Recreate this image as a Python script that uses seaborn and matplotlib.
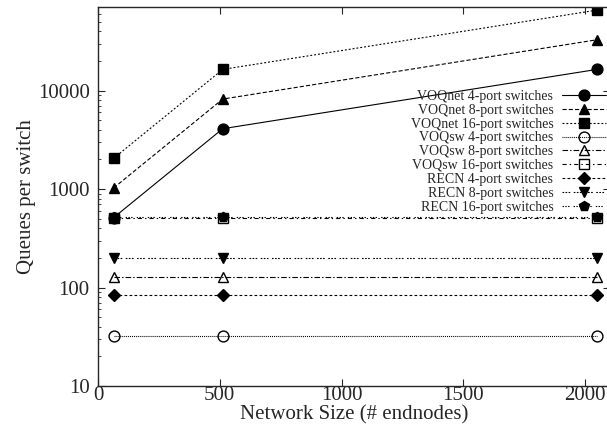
import matplotlib
matplotlib.use("Agg")
import matplotlib.pyplot as plt
import seaborn as sns
import pandas as pd

# ---- data ----
network_sizes = [64, 512, 2048]
voqnet_4 = [512, 4096, 16384]
voqnet_8 = [1024, 8192, 32768]
voqnet_16 = [2048, 16384, 65536]
voqsw_4 = [32, 32, 32]
voqsw_8 = [128, 128, 128]
voqsw_16 = [512, 512, 512]
recn_4 = [84, 84, 84]
recn_8 = [200, 200, 200]
recn_16 = [525, 525, 525]

series_labels = [
    "VOQnet 4-port switches", "VOQnet 8-port switches", "VOQnet 16-port switches",
    "VOQsw 4-port switches", "VOQsw 8-port switches", "VOQsw 16-port switches",
    "RECN 4-port switches", "RECN 8-port switches", "RECN 16-port switches",
]
series_values = [voqnet_4, voqnet_8, voqnet_16, voqsw_4, voqsw_8, voqsw_16,
                 recn_4, recn_8, recn_16]
x_ticks = [0, 500, 1000, 1500, 2000]
y_ticks = [10, 100, 1000, 10000]
y_tick_labels = ["10", "100", "1000", "10000"]

# ---- styles ----
styles = [
    dict(ls="-", marker="o", mfc="black"),
    dict(ls=(0, (3.0, 1.5)), marker="^", mfc="black"),
    dict(ls=(0, (1.4, 1.4)), marker="s", mfc="black"),
    dict(ls=(0, (0.7, 0.7)), marker="o", mfc="none"),
    dict(ls=(0, (4.0, 1.5, 1.0, 1.5)), marker="^", mfc="none"),
    dict(ls=(0, (3.0, 2.2, 1.0, 2.2)), marker="s", mfc="none"),
    dict(ls=(0, (2.0, 1.6)), marker="D", mfc="black"),
    dict(ls=(0, (1.2, 1.0, 1.2, 1.0, 1.2, 2.5)), marker="v", mfc="black"),
    dict(ls=(0, (1.0, 1.0, 1.0, 1.0, 1.0, 3.0)), marker="p", mfc="black"),
]
msizes = [7.8, 7.2, 7.6, 7.8, 7.2, 7.2, 6.0, 7.2, 7.8]

sns.set_style("ticks")
plt.rcParams["font.family"] = ["Liberation Serif", "DejaVu Serif"]
plt.rcParams["lines.scale_dashes"] = False
plt.rcParams["axes.linewidth"] = 1.0

W, H = 607, 433
fig = plt.figure(figsize=(W / 100, H / 100), dpi=100)
ax = fig.add_axes([98 / W, (H - 386) / H, (609.6 - 98) / W, (386 - 7.3) / H])

for label, vals, st, ms in zip(series_labels, series_values, styles, msizes):
    df = pd.DataFrame({"x": network_sizes, "y": vals})
    sns.lineplot(data=df, x="x", y="y", ax=ax, color="black", linewidth=0.8,
                 linestyle=st["ls"], marker=st["marker"], markersize=ms,
                 markerfacecolor=st["mfc"], markeredgecolor="black",
                 markeredgewidth=1.0, label=label, legend=False)

ax.set_yscale("log")
ax.set_xlim(0, 2100)
ax.set_ylim(10, 70000)
ax.set_xticks(x_ticks)
ax.set_xticklabels([str(t) for t in x_ticks])
ax.set_yticks(y_ticks)
ax.set_yticklabels(y_tick_labels)
ax.tick_params(axis="both", which="major", direction="in", length=5, width=0.8,
               labelsize=15, top=True, right=True)
ax.tick_params(axis="y", which="minor", direction="in", length=2.5, width=0.6,
               left=True, right=True)
ax.tick_params(axis="x", which="major", pad=0)
ax.tick_params(axis="y", which="major", pad=6)
ax.minorticks_on()
ax.xaxis.set_minor_locator(matplotlib.ticker.NullLocator())
ax.set_xlabel("Network Size (# endnodes)", fontsize=15)
ax.set_ylabel("Queues per switch", fontsize=15)
ax.xaxis.set_label_coords(0.5, -0.05)
ax.yaxis.set_label_coords(-0.122, 0.5)
for s in ax.spines.values():
    s.set_linewidth(1.0)

handles, labels = ax.get_legend_handles_labels()
leg = ax.legend(handles, labels, loc="upper right", frameon=False,
                markerfirst=False, fontsize=10, borderpad=0,
                handlelength=3.2, handletextpad=0.6, labelspacing=0.06,
                bbox_to_anchor=(613 / W, (H - 83) / H),
                bbox_transform=fig.transFigure)

fig.savefig("out.png", dpi=100)
